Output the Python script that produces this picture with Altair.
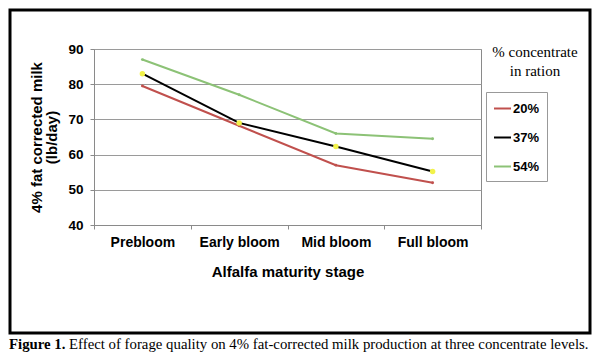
import altair as alt
import pandas as pd

stages = ["Prebloom", "Early bloom", "Mid bloom", "Full bloom"]
series = ["20%", "37%", "54%"]
milk_20 = [79.5, 68.2, 57.0, 52.0]
milk_37 = [83.0, 69.0, 62.3, 55.2]
milk_54 = [87.0, 77.0, 66.0, 64.5]
line_colors = ["#c0504d", "#000000", "#8cc276"]
marker_colors = ["#c0504d", "#f2f24a", "#8cc276"]
y_ticks = [40, 50, 60, 70, 80, 90]

rows = []
for s, vals in zip(series, [milk_20, milk_37, milk_54]):
    for st, v in zip(stages, vals):
        rows.append({"stage": st, "series": s, "milk": v})
df = pd.DataFrame(rows)

W, H = 387, 176
SANS = "Liberation Sans"
SERIF = "Liberation Serif"

x_enc = alt.X(
    "stage:N",
    sort=stages,
    scale=alt.Scale(type="band", paddingInner=0, paddingOuter=0),
    axis=alt.Axis(
        title="Alfalfa maturity stage",
        labelAngle=0,
        tickBand="extent",
        grid=False,
        labelFontSize=14,
        labelPadding=6,
        titlePadding=15,
        titleFontSize=15,
    ),
)
y_enc = alt.Y(
    "milk:Q",
    scale=alt.Scale(domain=[40, 90], nice=False, zero=False),
    axis=alt.Axis(
        values=y_ticks,
        title=["4% fat corrected milk", "(lb/day)"],
        grid=True,
        labelFontSize=13.5,
        labelPadding=7,
        titlePadding=8,
        titleFontSize=15,
        titleLineHeight=15,
    ),
)

base = alt.Chart(df)
lines = base.mark_line(strokeWidth=2).encode(
    x=x_enc,
    y=y_enc,
    color=alt.Color(
        "series:N",
        scale=alt.Scale(domain=series, range=line_colors),
        legend=alt.Legend(
            title=None,
            orient="none",
            legendX=392,
            legendY=43,
            symbolType="stroke",
            symbolSize=289,
            symbolStrokeWidth=2,
            labelFont=SANS,
            labelFontSize=13,
            labelFontWeight="bold",
            labelColor="black",
            labelOffset=1,
            rowPadding=12,
            padding=7,
            strokeColor="#999999",
            fillColor="white",
        ),
    ),
)
fill_enc = alt.Fill(
    "series:N",
    scale=alt.Scale(domain=series, range=marker_colors),
    legend=None,
)
points_big = base.transform_filter(alt.datum.series == "37%").mark_point(
    filled=True, shape="circle", opacity=1, size=30
).encode(x=x_enc, y=y_enc, fill=fill_enc)
points_small = base.transform_filter(alt.datum.series != "37%").mark_point(
    filled=True, shape="circle", opacity=1, size=8
).encode(x=x_enc, y=y_enc, fill=fill_enc)

one = alt.Chart(pd.DataFrame({"k": [0]}))
frame = one.mark_rect(fill="transparent", stroke="black", strokeWidth=3).encode(
    x=alt.value(-84), x2=alt.value(496), y=alt.value(-39), y2=alt.value(284)
)
leg_t1 = one.mark_text(font=SERIF, fontSize=15, align="center", baseline="alphabetic", color="black").encode(
    x=alt.value(441), y=alt.value(8), text=alt.value("% concentrate")
)
leg_t2 = one.mark_text(font=SERIF, fontSize=15, align="center", baseline="alphabetic", color="black").encode(
    x=alt.value(441), y=alt.value(27), text=alt.value("in ration")
)
cap1 = one.mark_text(font=SERIF, fontSize=14.8, fontWeight="bold", align="left", baseline="alphabetic", color="black").encode(
    x=alt.value(-85), y=alt.value(300), text=alt.value("Figure 1.")
)
cap2 = one.mark_text(font=SERIF, fontSize=14.8, align="left", baseline="alphabetic", color="black").encode(
    x=alt.value(-25), y=alt.value(300),
    text=alt.value("Effect of forage quality on 4% fat-corrected milk production at three concentrate levels."),
)

chart = (
    alt.layer(frame, lines, points_small, points_big, leg_t1, leg_t2, cap1, cap2)
    .properties(
        width=W,
        height=H,
        padding={"left": 86, "top": 41, "right": 111, "bottom": 128},
        autosize=alt.AutoSizeParams(type="none"),
        background="white",
    )
    .configure_view(stroke="#8a8a8a", strokeWidth=1)
    .configure_axis(
        labelFont=SANS,
        labelFontWeight="bold",
        labelColor="black",
        titleFont=SANS,
        titleFontWeight="bold",
        titleColor="black",
        tickSize=4,
        tickColor="#8a8a8a",
        domainColor="#8a8a8a",
        gridColor="#9a9a9a",
        gridWidth=1,
    )
)

chart.save("out.html", embed_options={"renderer": "svg", "actions": False})
